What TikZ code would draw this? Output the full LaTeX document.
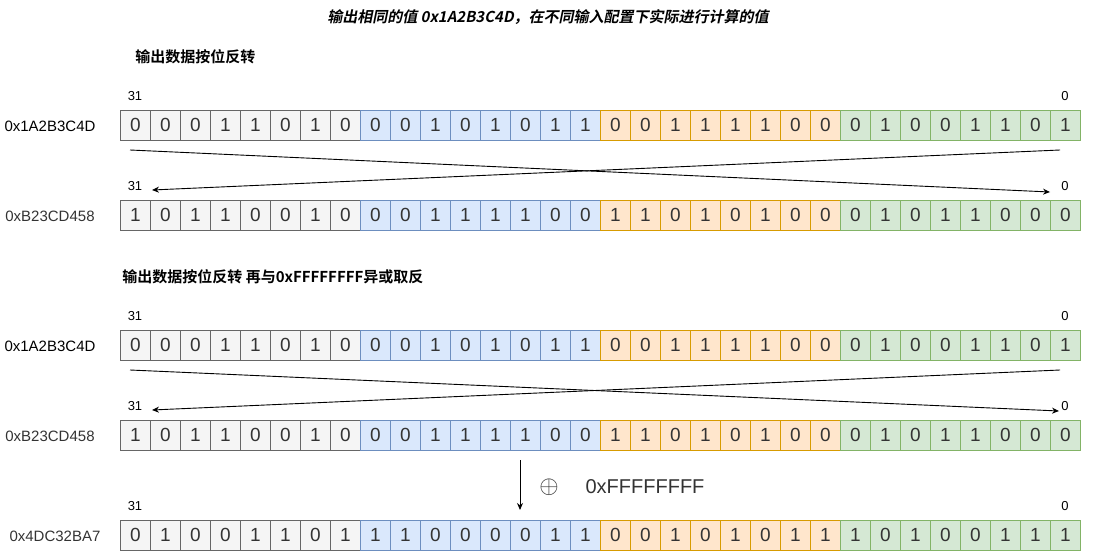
\documentclass[tikz,border=0pt]{standalone}
\usepackage{fontspec}
\usepackage{tikz}
\usetikzlibrary{arrows.meta}
\setmainfont{Liberation Sans}
\newfontfamily\cjk{Noto Sans CJK SC Bold}
\newfontfamily\cjktitle[FakeSlant=0.2]{Noto Sans CJK SC Bold}

\definecolor{txt}{HTML}{333333}
\definecolor{gfill}{HTML}{F5F5F5}\definecolor{gline}{HTML}{666666}
\definecolor{bfill}{HTML}{DAE8FC}\definecolor{bline}{HTML}{6C8EBF}
\definecolor{ofill}{HTML}{FFE6CC}\definecolor{oline}{HTML}{D79B00}
\definecolor{vfill}{HTML}{D5E8D4}\definecolor{vline}{HTML}{82B366}

% one row of 32 bits, bit 31 first
\newcommand\bitrow[3]{%
  \foreach \b [count=\i from 0] in {#3} {
    \pgfmathtruncatemacro\g{\i/8}
    \node[bit,grp\g] (#1-\i) at (120+30*\i,#2) {\b};
  }}

\begin{document}
\begin{tikzpicture}[x=1pt,y=-1pt,>={Stealth[length=7pt,width=6pt]},
    line width=0.9pt,
    bit/.style={draw,minimum size=30pt,inner sep=0pt,anchor=north west,
      text=txt,font=\fontsize{19}{19}\selectfont},
    grp0/.style={fill=gfill,draw=gline},
    grp1/.style={fill=bfill,draw=bline},
    grp2/.style={fill=ofill,draw=oline},
    grp3/.style={fill=vfill,draw=vline},
    idx/.style={font=\fontsize{13}{13}\selectfont},
    val/.style={font=\fontsize{15}{15}\selectfont},
    head/.style={anchor=west,inner sep=0pt,font=\cjk\fontsize{15}{15}\selectfont}]

  \useasboundingbox (0,0) rectangle (1095,551);

  % Titles
  \node[font=\cjktitle\fontsize{15}{15}\selectfont] (title) at (548,17)
    {输出相同的值 0x1A2B3C4D，在不同输入配置下实际进行计算的值};
  \node[head] (h1) at (135,57) {输出数据按位反转};
  \node[head] (h2) at (122,277) {输出数据按位反转 再与0xFFFFFFFF异或取反};

  % Bit rows
  \bitrow{r1}{110}{0,0,0,1,1,0,1,0,0,0,1,0,1,0,1,1,0,0,1,1,1,1,0,0,0,1,0,0,1,1,0,1}
  \bitrow{r2}{200}{1,0,1,1,0,0,1,0,0,0,1,1,1,1,0,0,1,1,0,1,0,1,0,0,0,1,0,1,1,0,0,0}
  \bitrow{r3}{330}{0,0,0,1,1,0,1,0,0,0,1,0,1,0,1,1,0,0,1,1,1,1,0,0,0,1,0,0,1,1,0,1}
  \bitrow{r4}{420}{1,0,1,1,0,0,1,0,0,0,1,1,1,1,0,0,1,1,0,1,0,1,0,0,0,1,0,1,1,0,0,0}
  \bitrow{r5}{520}{0,1,0,0,1,1,0,1,1,1,0,0,0,0,1,1,0,0,1,0,1,0,1,1,1,0,1,0,0,1,1,1}

  % Row values
  \node[val] (v1) at (50,126) {0x1A2B3C4D};
  \node[val,text=txt] (v2) at (50,216) {0xB23CD458};
  \node[val] (v3) at (50,346) {0x1A2B3C4D};
  \node[val,text=txt] (v4) at (50,436) {0xB23CD458};
  \node[val,text=txt] (v5) at (55,536) {0x4DC32BA7};

  % Bit indices
  \foreach \r/\y in {r1/96,r2/186,r3/316,r4/406,r5/506} {
    \node[idx] (\r-hi) at (135,\y) {31};
    \node[idx] (\r-lo) at (1065,\y) {0};
  }

  % Reversal
  \coordinate (a1) at (130,150);  \coordinate (t1) at (1050,192);
  \coordinate (b1) at (1060,150); \coordinate (u1) at (152,190);
  \coordinate (a2) at (130,370);  \coordinate (t2) at (1059,411);
  \coordinate (b2) at (1060,370); \coordinate (u2) at (152,410);
  \draw[->] (a1) -- (t1);
  \draw[->] (b1) -- (u1);
  \draw[->] (a2) -- (t2);
  \draw[->] (b2) -- (u2);

  % XOR
  \coordinate (x0) at (520,460);
  \coordinate (x1) at (520,510);
  \draw[->] (x0) -- (x1);
  \node[text=txt,font=\fontsize{25}{25}\selectfont] (op) at (549,487) {$\oplus$};
  \node[text=txt,font=\fontsize{20}{20}\selectfont] (mask) at (645,487) {0xFFFFFFFF};

\end{tikzpicture}
\end{document}
